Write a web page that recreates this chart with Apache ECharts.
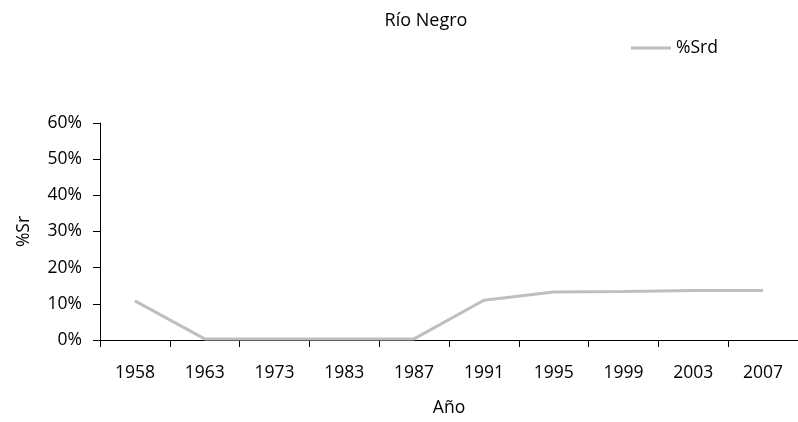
<!DOCTYPE html>
<html>
<head>
<meta charset="utf-8">
<script src="https://cdn.jsdelivr.net/npm/echarts@6/dist/echarts.min.js"></script>
<style>html,body{margin:0;padding:0;background:#fff}#c{width:798px;height:422px}</style>
</head>
<body>
<div id="c"></div>
<script>
const categories = ['1958','1963','1973','1983','1987','1991','1995','1999','2003','2007'];
const srdValues = [10.8, 0.3, 0.3, 0.3, 0.3, 11.0, 13.3, 13.4, 13.7, 13.7];
const yTicks = [0, 10, 20, 30, 40, 50, 60];
const titleText = 'Río Negro';
const seriesName = '%Srd';
const xName = 'Año';
const yName = '%Sr';

const FONT = 'Open Sans';
const chart = echarts.init(document.getElementById('c'), null, {renderer: 'canvas'});
chart.setOption({
  animation: false,
  backgroundColor: '#fff',
  textStyle: {fontFamily: FONT, color: '#000'},
  title: {
    text: titleText,
    left: 426, top: 12, padding: 0, textAlign: 'center',
    textStyle: {fontFamily: FONT, fontSize: 18, fontWeight: 'normal', color: '#000'}
  },
  legend: {
    data: [{name: seriesName, icon: 'rect'}],
    left: 631, top: 39, padding: 0,
    itemWidth: 40, itemHeight: 3,
    textStyle: {fontFamily: FONT, fontSize: 17.5, color: '#000'}
  },
  grid: {left: 100, right: -14, top: 123, bottom: 80, containLabel: false},
  xAxis: {
    type: 'category',
    data: categories,
    boundaryGap: true,
    name: xName, nameLocation: 'middle', nameGap: 59,
    nameTextStyle: {fontFamily: FONT, fontSize: 17.5, color: '#000'},
    axisLine: {show: true, lineStyle: {color: '#000', width: 1}},
    axisTick: {show: true, length: 7, alignWithLabel: false, lineStyle: {color: '#000'}},
    axisLabel: {margin: 24, fontFamily: FONT, fontSize: 17.5, color: '#000', interval: 0},
    splitLine: {show: false}
  },
  yAxis: {
    type: 'value',
    min: yTicks[0], max: yTicks[yTicks.length - 1], interval: 10,
    name: yName, nameLocation: 'middle', nameGap: 67,
    nameTextStyle: {fontFamily: FONT, fontSize: 17.5, color: '#000'},
    axisLine: {show: true, lineStyle: {color: '#000', width: 1}},
    axisTick: {show: true, length: 7, lineStyle: {color: '#000'}},
    axisLabel: {margin: 18, fontFamily: FONT, fontSize: 17.5, color: '#000', formatter: v => v + '%'},
    splitLine: {show: false}
  },
  series: [{
    name: seriesName,
    type: 'line',
    data: srdValues,
    symbol: 'none',
    lineStyle: {color: '#BFBFBF', width: 3},
    itemStyle: {color: '#BFBFBF'}
  }]
});
</script>
</body>
</html>
